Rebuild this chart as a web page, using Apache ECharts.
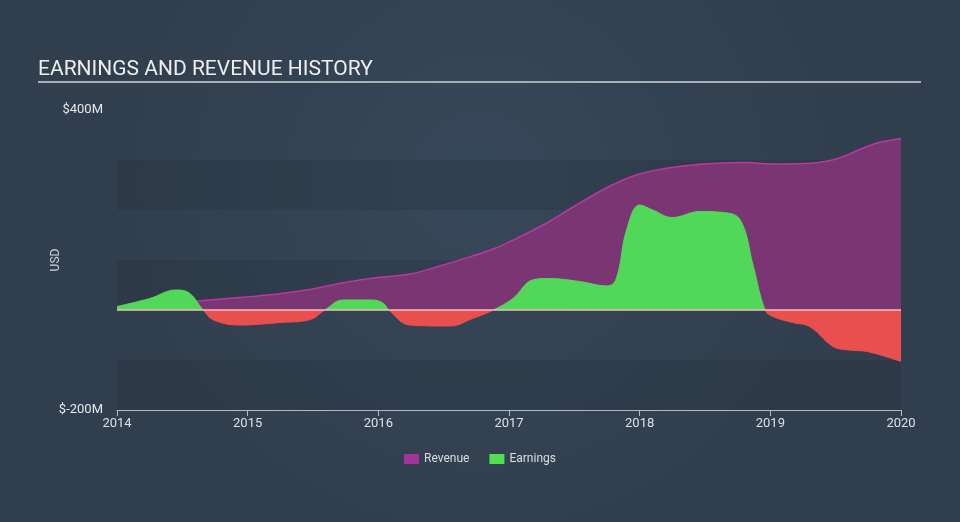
<!DOCTYPE html>
<html>
<head>
<meta charset="utf-8">
<script src="https://cdn.jsdelivr.net/npm/echarts@6/dist/echarts.min.js"></script>
<style>
html,body{margin:0;padding:0;background:#323f4e;}
#c{width:960px;height:522px;}
</style>
</head>
<body>
<div id="c"></div>
<script>
const titleText = 'EARNINGS AND REVENUE HISTORY';
const yTickLabels = ['$-200M', '$400M'];
const xTickYears = [2014, 2015, 2016, 2017, 2018, 2019, 2020];

const revenueDates = [2014.0, 2014.3, 2014.61, 2014.94, 2015.19, 2015.5, 2015.72, 2015.96, 2016.24, 2016.47, 2016.72, 2016.88, 2017.0, 2017.29, 2017.54, 2017.79, 2018.0, 2018.3, 2018.56, 2018.82, 2019.0, 2019.27, 2019.44, 2019.57, 2019.7, 2019.83, 2020.0];
const revenueValues = [6, 12, 18, 25, 31, 42, 54, 64, 72, 88, 108, 122, 136, 174, 214, 250, 272, 287, 293, 295, 292, 293, 298, 308, 323, 335, 343];

const earningsDates = [2014.0, 2014.25, 2014.45, 2014.54, 2014.66, 2014.74, 2014.94, 2015.25, 2015.48, 2015.59, 2015.73, 2015.96, 2016.04, 2016.08, 2016.24, 2016.55, 2016.72, 2016.88, 2017.03, 2017.18, 2017.3, 2017.54, 2017.75, 2017.82, 2017.9, 2018.0, 2018.1, 2018.25, 2018.46, 2018.64, 2018.77, 2018.87, 2018.96, 2019.02, 2019.17, 2019.3, 2019.48, 2019.6, 2019.74, 2020.0];
const earningsValues = [7, 23, 40, 36, 0, -20, -30, -25, -19, 0, 20, 20, 13, 0, -30, -32, -17, 0, 23, 60, 63, 57, 48, 62, 160, 210, 200, 185, 197, 195, 180, 87, 0, -13, -25, -33, -73, -80, -83, -103];

const revenueData = revenueDates.map((d, i) => [d, revenueValues[i]]);
const earningsData = earningsDates.map((d, i) => [d, earningsValues[i]]);

const chart = echarts.init(document.getElementById('c'), null, {renderer: 'canvas'});
chart.setOption({
  backgroundColor: {
    type: 'radial', x: 0.5, y: 0.35, r: 0.7,
    colorStops: [{offset: 0, color: '#37485a'}, {offset: 1, color: '#313e4d'}]
  },
  animation: false,
  title: {
    text: titleText,
    left: 33, top: 54,
    textStyle: {color: '#eeeeee', fontSize: 21, fontWeight: 'normal', fontFamily: 'Roboto'}
  },
  graphic: [{
    type: 'line', shape: {x1: 38, y1: 82, x2: 921, y2: 82},
    style: {stroke: '#a9afb6', lineWidth: 2}
  }],
  legend: {
    bottom: 52, left: 'center',
    itemWidth: 15, itemHeight: 10, itemGap: 20,
    icon: 'rect',
    textStyle: {color: '#dddddd', fontSize: 12, fontFamily: 'Roboto'},
    data: [{name: 'Revenue', itemStyle: {color: '#a0349a'}}, {name: 'Earnings', itemStyle: {color: '#52de52'}}]
  },
  grid: {left: 117, right: 59, top: 110, bottom: 112},
  xAxis: {
    type: 'value', min: 2014, max: 2020, interval: 1,
    axisLine: {onZero: false, lineStyle: {color: '#b3bbc4', width: 1}},
    axisTick: {length: 6, lineStyle: {color: '#b3bbc4'}},
    axisLabel: {color: '#dde0e4', fontSize: 13, fontFamily: 'Roboto', margin: 7, formatter: v => xTickYears.includes(v) ? String(v) : ''},
    splitLine: {show: false}
  },
  yAxis: {
    type: 'value', min: -200, max: 400, interval: 100,
    name: 'USD', nameLocation: 'middle', nameGap: 55, nameMoveOverlap: false,
    nameTextStyle: {color: '#d0d4d8', fontSize: 12, fontFamily: 'Roboto'},
    axisLine: {show: false}, axisTick: {show: false},
    axisLabel: {color: '#e6e8ea', fontSize: 13, fontFamily: 'Roboto', margin: 14,
      formatter: v => v === -200 ? yTickLabels[0] : (v === 400 ? yTickLabels[1] : '')},
    splitLine: {show: false},
    splitArea: {show: true, areaStyle: {color: ['rgba(30,40,52,0.22)', 'rgba(0,0,0,0)']}}
  },
  visualMap: {
    show: false, type: 'piecewise', seriesIndex: 1, dimension: 1,
    pieces: [{min: -1000, max: 0, color: '#e94f4f'}, {min: 0, max: 1000, color: '#52d858'}]
  },
  series: [
    {
      name: 'Revenue', type: 'line', data: revenueData, smooth: 0.4, symbol: 'none',
      lineStyle: {color: '#b8399f', width: 1.5},
      itemStyle: {color: '#a0349a'},
      areaStyle: {color: '#7a3672', opacity: 1},
      z: 2
    },
    {
      name: 'Earnings', type: 'line', data: earningsData, smooth: 0.4, symbol: 'none',
      lineStyle: {width: 1},
      itemStyle: {color: '#52de52'},
      areaStyle: {opacity: 1},
      markLine: {
        silent: true, symbol: 'none', label: {show: false},
        lineStyle: {color: '#f2bcbc', type: 'solid', width: 1.5},
        data: [{yAxis: 0}]
      },
      z: 3
    }
  ]
});
</script>
</body>
</html>
